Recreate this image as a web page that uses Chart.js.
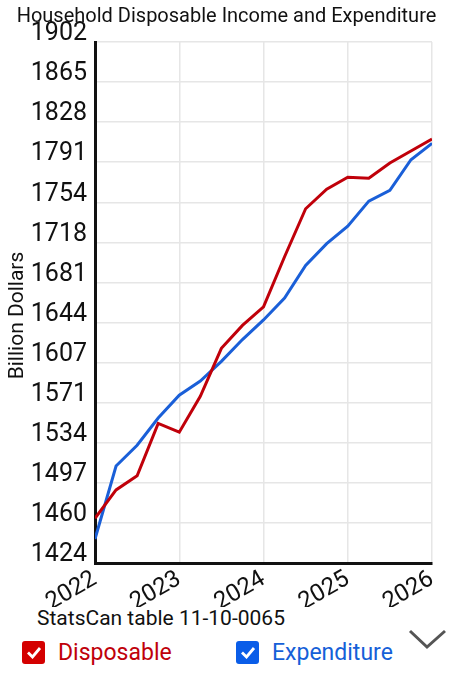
<!DOCTYPE html>
<html>
<head>
<meta charset="utf-8">
<script src="https://cdn.jsdelivr.net/npm/chart.js@4.4.1/dist/chart.umd.min.js"></script>
<style>
  body { margin: 0; background: #fff; font-family: Roboto, sans-serif; }
  #wrap { position: relative; width: 453px; height: 607px; }
  #source { font-size: 21px; color: #111; margin: 0 0 0 37px; line-height: 22px; }
  #legend { position: relative; height: 50px; }
  .item { position: absolute; top: 10px; display: flex; align-items: center; font-size: 23px; cursor: pointer; }
  .box { width: 23px; height: 23px; border-radius: 3px; margin-right: 13px; display: flex; align-items: center; justify-content: center; }
  #chev { position: absolute; left: 407px; top: -2px; }
</style>
</head>
<body>
<div id="wrap"><canvas id="chart"></canvas></div>
<div id="source">StatsCan table 11-10-0065</div>
<div id="legend">
  <div class="item" id="leg0" style="left:22px;color:#c0000a">
    <span class="box" style="background:#d40000"><svg width="16" height="13" viewBox="0 0 16 13"><polyline points="2,6.5 6.5,11 14,2" fill="none" stroke="#fff" stroke-width="2.8"/></svg></span>Disposable
  </div>
  <div class="item" id="leg1" style="left:236px;color:#1560d8">
    <span class="box" style="background:#0a5de8"><svg width="16" height="13" viewBox="0 0 16 13"><polyline points="2,6.5 6.5,11 14,2" fill="none" stroke="#fff" stroke-width="2.8"/></svg></span>Expenditure
  </div>
  <svg id="chev" width="42" height="26" viewBox="0 0 42 26"><polyline points="3,4 20,20 38,4" fill="none" stroke="#555" stroke-width="3"/></svg>
</div>
<script>
var quarters = ["2022 Q1", "2022 Q2", "2022 Q3", "2022 Q4",
                "2023 Q1", "2023 Q2", "2023 Q3", "2023 Q4",
                "2024 Q1", "2024 Q2", "2024 Q3", "2024 Q4",
                "2025 Q1", "2025 Q2", "2025 Q3", "2025 Q4",
                "2026 Q1"];
var disposable = [1465, 1491, 1504, 1552, 1544, 1577, 1621, 1642, 1659,
                  1705, 1749, 1767, 1778, 1777, 1791, 1802, 1813];
var expenditure = [1446, 1513, 1532, 1557, 1578, 1591, 1609, 1629, 1647,
                   1667, 1697, 1717, 1733, 1756, 1766, 1794, 1809];
var yTicks = [1424, 1460, 1497, 1534, 1571, 1607, 1644, 1681, 1718, 1754, 1791, 1828, 1865, 1902];
var yMin = 1424, yMax = 1902.01;

// quarter label -> decimal year, so the x axis can be linear
function qx(q) {
  var p = q.split(" Q");
  return Number(p[0]) + (Number(p[1]) - 1) / 4;
}
function toPoints(vals) {
  return vals.map(function (v, i) { return { x: qx(quarters[i]), y: v }; });
}

var ctx = document.getElementById("chart").getContext("2d");
var chart = new Chart(ctx, {
  type: "line",
  data: {
    datasets: [
      { label: "Disposable", data: toPoints(disposable), borderColor: "#c0000a", borderWidth: 3, pointRadius: 0, tension: 0 },
      { label: "Expenditure", data: toPoints(expenditure), borderColor: "#1a5fd8", borderWidth: 3, pointRadius: 0, tension: 0 },
    ],
  },
  options: {
    responsive: true,
    maintainAspectRatio: false,
    animation: false,
    layout: { padding: { left: 1, right: 1, top: 5, bottom: 0 } },
    plugins: {
      legend: { display: false },
      tooltip: { enabled: false },
      title: {
        display: true,
        text: "Household Disposable Income and Expenditure",
        color: "#111",
        font: { family: "Roboto", size: 20, weight: "normal" },
        padding: { top: 0, bottom: 13 },
      },
    },
    scales: {
      x: {
        type: "linear",
        min: 2022,
        max: 2026,
        afterFit: function (scale) {
          scale.height = 44;
          scale.paddingRight = 21;
        },
        ticks: {
          stepSize: 1,
          minRotation: 30,
          maxRotation: 30,
          color: "#111",
          font: { family: "Roboto", size: 24 },
          padding: 2,
          callback: function (v) { return String(v); },
        },
        grid: { color: "#e6e6e6", lineWidth: 1.5, drawTicks: false },
        border: { color: "#111", width: 3 },
      },
      y: {
        min: yMin,
        max: yMax,
        afterFit: function (scale) { scale.width = 94; },
        afterBuildTicks: function (scale) {
          scale.ticks = yTicks.map(function (t, i) {
            return { value: yMin + i * (yMax - yMin) / (yTicks.length - 1) };
          });
        },
        ticks: {
          color: "#111",
          font: { family: "Roboto", size: 25 },
          padding: 8,
          labelOffset: -8,
          callback: function (v, i) { return String(yTicks[i]); },
        },
        grid: { color: "#e6e6e6", lineWidth: 1.5, drawTicks: false },
        border: { color: "#111", width: 3 },
        title: {
          display: true,
          text: "Billion Dollars     ",
          color: "#111",
          font: { family: "Roboto", size: 21 },
        },
      },
    },
  },
});

[0, 1].forEach(function (i) {
  document.getElementById("leg" + i).onclick = function () {
    var vis = chart.isDatasetVisible(i);
    chart.setDatasetVisibility(i, !vis);
    this.querySelector(".box").style.opacity = vis ? 0.3 : 1;
    chart.update();
  };
});
</script>
</body>
</html>
